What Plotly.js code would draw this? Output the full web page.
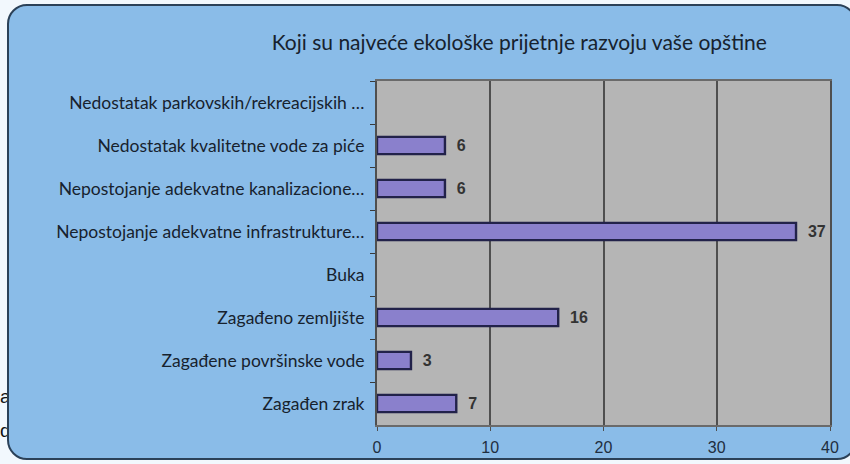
<!DOCTYPE html>
<html>
<head>
<meta charset="utf-8">
<script src="https://cdn.plot.ly/plotly-3.0.1.min.js"></script>
<style>
  html, body { margin: 0; padding: 0; width: 850px; height: 464px; overflow: hidden; background: #F2F8FD; }
  #bgtext { position: absolute; left: 0px; top: 380px; font-family: "Liberation Sans", Arial, sans-serif; font-size: 19px; color: #111; line-height: 34px; }
  #frame { position: absolute; left: 7px; top: 4px; width: 850px; height: 456px; border-radius: 20px; background: #8ABCE8; border: 2px solid #2B4158; box-sizing: border-box; }
  #chart { position: absolute; left: 0; top: 0; width: 850px; height: 464px; }
</style>
</head>
<body>
<div id="bgtext">a<br>d</div>
<div id="frame"></div>
<div id="chart"></div>
<script>
const categories = [
  "Nedostatak parkovskih/rekreacijskih …",
  "Nedostatak kvalitetne vode za piće",
  "Nepostojanje adekvatne kanalizacione…",
  "Nepostojanje adekvatne infrastrukture…",
  "Buka",
  "Zagađeno zemljište",
  "Zagađene površinske vode",
  "Zagađen zrak"
];
const values = [null, 6, 6, 37, null, 16, 3, 7];
const xTicks = [0, 10, 20, 30, 40];
const chartTitle = "Koji su najveće ekološke prijetnje razvoju vaše opštine";

const trace = {
  type: "bar",
  orientation: "h",
  y: categories,
  x: values,
  text: values.map(v => v === null ? "" : "\u00a0\u00a0" + String(v)),
  textposition: "outside",
  constraintext: "none",
  cliponaxis: false,
  textfont: { family: "Liberation Sans, Arial, sans-serif", size: 16, color: "#333333", weight: "bold" },
  marker: { color: "#8A80CC", line: { color: "#22224A", width: 2.4 } },
  width: 0.4,
  hoverinfo: "skip"
};

const layout = {
  width: 850, height: 464,
  margin: { l: 377, r: 20, t: 81, b: 39, pad: 0 },
  paper_bgcolor: "rgba(0,0,0,0)",
  plot_bgcolor: "#B5B5B5",
  showlegend: false,
  bargap: 0.6,
  title: {
    text: chartTitle,
    font: { family: "Lato, Open Sans, sans-serif", size: 21, color: "#17222E" },
    xref: "container", x: 0.611, xanchor: "center",
    yref: "container", y: 0.908, yanchor: "middle"
  },
  xaxis: {
    range: [0, 40],
    tickvals: xTicks,
    ticktext: xTicks.map(String),
    showgrid: true, gridcolor: "#4F4F4F", gridwidth: 2,
    zeroline: false,
    showline: true, linecolor: "#6A6A6A", linewidth: 2, mirror: true,
    ticks: "outside", ticklen: 4, tickcolor: "#4F4F4F",
    ticklabelstandoff: 3,
    tickfont: { family: "Liberation Sans, Arial, sans-serif", size: 16, color: "#1F2E40" },
    fixedrange: true
  },
  yaxis: {
    autorange: "reversed",
    type: "category",
    showgrid: false,
    showline: true, linecolor: "#4F4F4F", linewidth: 2, mirror: true,
    ticks: "outside", ticklen: 5, tickcolor: "#3A3A3A", tickson: "boundaries",
    ticklabelstandoff: 7,
    tickfont: { family: "Lato, Open Sans, sans-serif", size: 17.5, color: "#17222E" },
    fixedrange: true
  }
};

Plotly.newPlot("chart", [trace], layout, { displayModeBar: false, staticPlot: true });
</script>
</body>
</html>
